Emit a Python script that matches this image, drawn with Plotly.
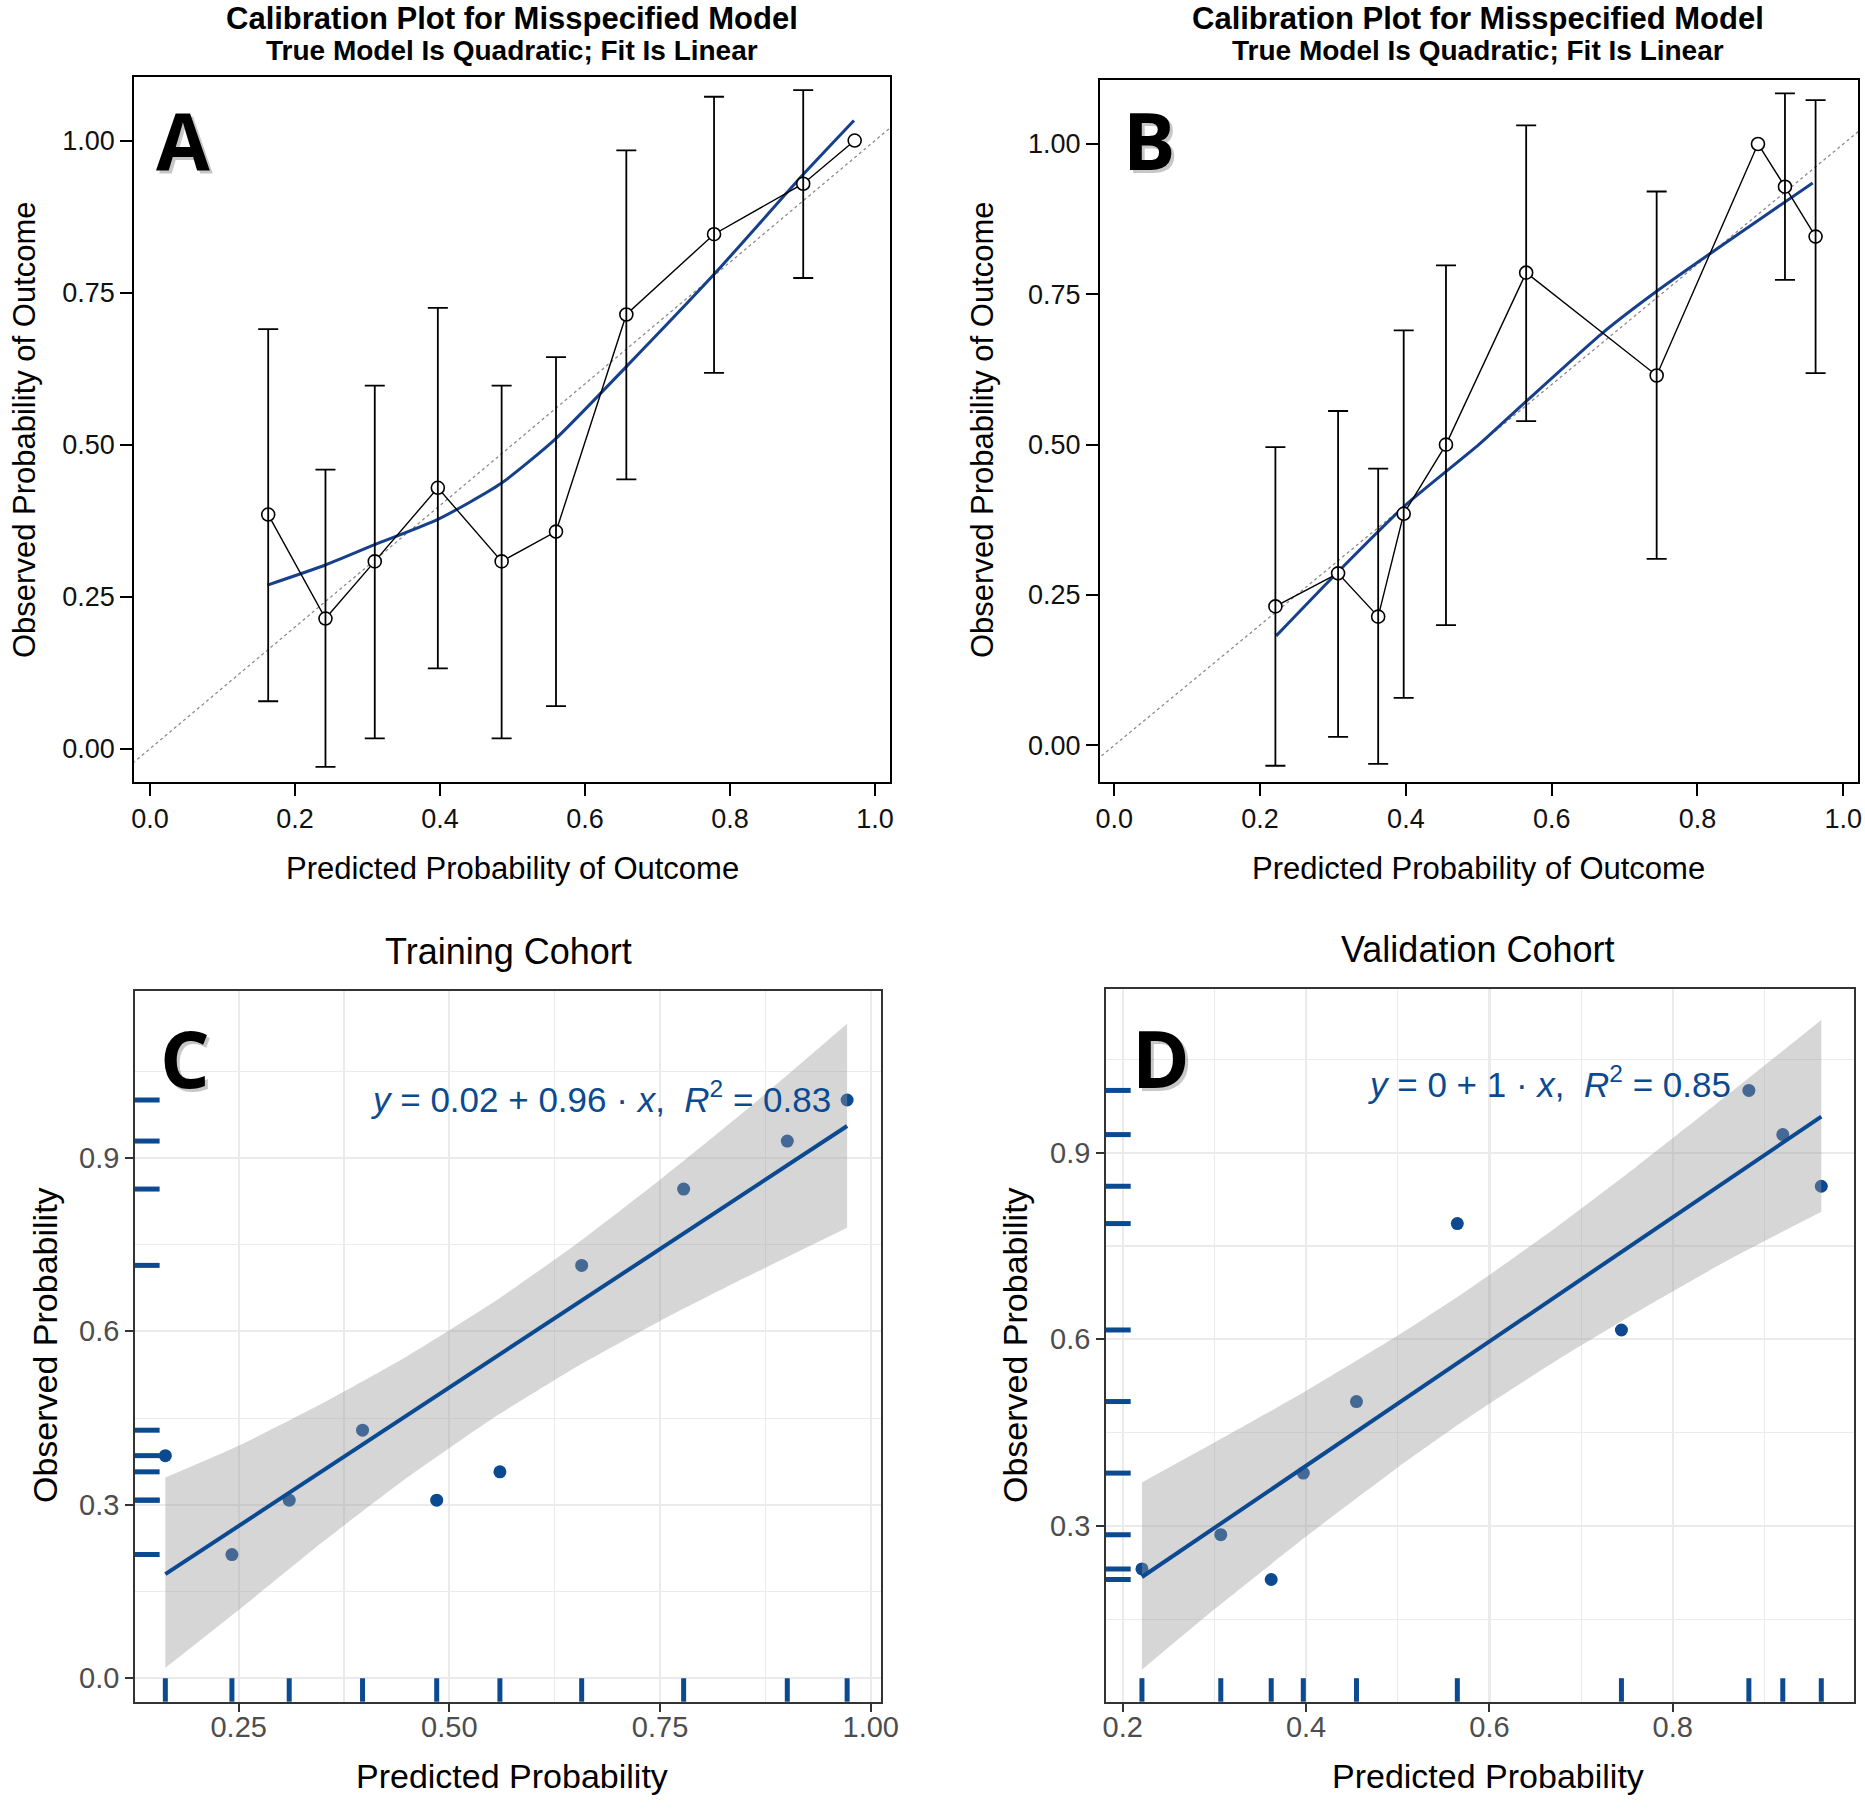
import plotly.graph_objects as go

# ---------------- data ----------------
# Training cohort (panels A and C)
train_pred = [0.163, 0.242, 0.310, 0.397, 0.485, 0.560, 0.657, 0.778, 0.901, 0.972]
train_obs = [0.385, 0.214, 0.308, 0.429, 0.308, 0.357, 0.714, 0.846, 0.929, 1.000]
train_ci_hi = [0.690, 0.459, 0.597, 0.725, 0.597, 0.644, 0.984, 1.072, 1.083, None]
train_ci_lo = [0.078, -0.030, 0.017, 0.132, 0.017, 0.070, 0.443, 0.618, 0.774, None]

# Validation cohort (panels B and D)
valid_pred = [0.221, 0.307, 0.362, 0.397, 0.455, 0.565, 0.744, 0.883, 0.920, 0.962]
valid_obs = [0.231, 0.286, 0.214, 0.385, 0.500, 0.786, 0.615, 1.000, 0.929, 0.846]
valid_ci_hi = [0.496, 0.556, 0.460, 0.690, 0.798, 1.031, 0.921, None, 1.084, 1.073]
valid_ci_lo = [-0.034, 0.014, -0.031, 0.079, 0.200, 0.539, 0.310, None, 0.774, 0.619]

# smoothed calibration curves (blue) in A and B
smoothA_x = [0.162, 0.242, 0.309, 0.397, 0.484, 0.559, 0.656, 0.778, 0.900, 0.971]
smoothA_y = [0.269, 0.302, 0.335, 0.377, 0.436, 0.509, 0.627, 0.780, 0.943, 1.033]
smoothB_x = [0.222, 0.300, 0.400, 0.500, 0.565, 0.670, 0.744, 0.813, 0.900, 0.958]
smoothB_y = [0.182, 0.280, 0.400, 0.500, 0.572, 0.686, 0.755, 0.814, 0.887, 0.935]

# ideal (diagonal) reference line
diag_ref = [-0.1, 1.2]

# linear fits and confidence bands in C and D
fitC_x = [0.163, 0.972]
fitC_y = [0.180, 0.955]
ribC_x = [0.163, 0.25, 0.35, 0.45, 0.55, 0.65, 0.75, 0.85, 0.972]
ribC_lo = [0.018, 0.118, 0.236, 0.347, 0.448, 0.538, 0.618, 0.692, 0.779]
ribC_hi = [0.347, 0.402, 0.476, 0.557, 0.648, 0.750, 0.862, 0.980, 1.132]

fitD_x = [0.221, 0.962]
fitD_y = [0.218, 0.958]
ribD_x = [0.221, 0.30, 0.40, 0.50, 0.58, 0.67, 0.76, 0.86, 0.962]
ribD_lo = [0.069, 0.166, 0.283, 0.394, 0.477, 0.563, 0.643, 0.727, 0.805]
ribD_hi = [0.370, 0.434, 0.517, 0.606, 0.683, 0.777, 0.877, 0.993, 1.113]

eqC = "<i>y</i> = 0.02 + 0.96 \u00b7 <i>x</i>,\u00a0\u00a0<i>R</i><sup>2</sup> = 0.83"
eqD = "<i>y</i> = 0 + 1 \u00b7 <i>x</i>,\u00a0\u00a0<i>R</i><sup>2</sup> = 0.85"

tickAB_x = [0.0, 0.2, 0.4, 0.6, 0.8, 1.0]
tickAB_xt = ["0.0", "0.2", "0.4", "0.6", "0.8", "1.0"]
tickAB_y = [0.0, 0.25, 0.5, 0.75, 1.0]
tickAB_yt = ["0.00", "0.25", "0.50", "0.75", "1.00"]
tickC_x = [0.25, 0.50, 0.75, 1.00]
tickC_xt = ["0.25", "0.50", "0.75", "1.00"]
minorC_x = [0.375, 0.625, 0.875]
tickCD_y = [0.0, 0.3, 0.6, 0.9]
tickCD_yt = ["0.0", "0.3", "0.6", "0.9"]
minorCD_y = [0.15, 0.45, 0.75, 1.05]
tickD_x = [0.2, 0.4, 0.6, 0.8]
tickD_xt = ["0.2", "0.4", "0.6", "0.8"]
minorD_x = [0.3, 0.5, 0.7, 0.9]

# ---------------- styling ----------------
W, H = 1865, 1809
FONT = "Liberation Sans, Arial, Helvetica, sans-serif"
NAVY = "#163f8c"
BLUE = "#0b4a91"

fig = go.Figure()


def calib_panel(xa, ya, px, py, hi, lo, sx, sy):
    fig.add_trace(go.Scatter(x=diag_ref, y=diag_ref, mode="lines", xaxis=xa, yaxis=ya,
                             line=dict(color="#8c8c8c", width=1.3, dash="dot"), showlegend=False))
    fig.add_trace(go.Scatter(x=sx, y=sy, mode="lines", xaxis=xa, yaxis=ya,
                             line=dict(color=NAVY, width=3, shape="spline", smoothing=0.6),
                             showlegend=False))
    fig.add_trace(go.Scatter(x=px, y=py, mode="lines+markers", xaxis=xa, yaxis=ya,
                             line=dict(color="black", width=1.4),
                             marker=dict(symbol="circle", size=13, color="white",
                                         line=dict(color="black", width=1.6)),
                             showlegend=False))
    ex, ey, ep, em = [], [], [], []
    for x, y, h, l in zip(px, py, hi, lo):
        if h is None:
            continue
        ex.append(x); ey.append(y); ep.append(h - y); em.append(y - l)
    fig.add_trace(go.Scatter(x=ex, y=ey, mode="markers", xaxis=xa, yaxis=ya,
                             marker=dict(size=1, opacity=0),
                             error_y=dict(type="data", symmetric=False, array=ep, arrayminus=em,
                                          color="black", thickness=1.8, width=10),
                             showlegend=False))


calib_panel("x", "y", train_pred, train_obs, train_ci_hi, train_ci_lo, smoothA_x, smoothA_y)
calib_panel("x2", "y2", valid_pred, valid_obs, valid_ci_hi, valid_ci_lo, smoothB_x, smoothB_y)


def gg_panel(xa, ya, px, py, rx, rlo, rhi, fx, fy):
    fig.add_trace(go.Scatter(x=px, y=py, mode="markers", xaxis=xa, yaxis=ya,
                             marker=dict(size=13, color=BLUE), showlegend=False))
    fig.add_trace(go.Scatter(x=rx, y=rlo, mode="lines", xaxis=xa, yaxis=ya,
                             line=dict(width=0, shape="spline", smoothing=0.5),
                             showlegend=False))
    fig.add_trace(go.Scatter(x=rx, y=rhi, mode="lines", xaxis=xa, yaxis=ya,
                             line=dict(width=0, shape="spline", smoothing=0.5),
                             fill="tonexty", fillcolor="rgba(153,153,153,0.4)",
                             showlegend=False))
    fig.add_trace(go.Scatter(x=fx, y=fy, mode="lines", xaxis=xa, yaxis=ya,
                             line=dict(color=BLUE, width=4), showlegend=False))


gg_panel("x3", "y3", train_pred, train_obs, ribC_x, ribC_lo, ribC_hi, fitC_x, fitC_y)
gg_panel("x4", "y4", valid_pred, valid_obs, ribD_x, ribD_lo, ribD_hi, fitD_x, fitD_y)

shapes = []


def rugs(xa, ya, px, py):
    for x in px:
        shapes.append(dict(type="line", xref=xa, yref=ya + " domain", x0=x, x1=x, y0=0, y1=0.033,
                           line=dict(color=BLUE, width=5)))
    for y in py:
        shapes.append(dict(type="line", xref=xa + " domain", yref=ya, x0=0, x1=0.033, y0=y, y1=y,
                           line=dict(color=BLUE, width=5)))


rugs("x3", "y3", train_pred, train_obs)
rugs("x4", "y4", valid_pred, valid_obs)


def px2x(p):
    return p / W


def px2y(p):
    return 1 - p / H


def base_axis(dom, rng, tv, tt):
    return dict(domain=dom, range=rng, tickvals=tv, ticktext=tt, showline=True, mirror=True,
                zeroline=False, fixedrange=True, automargin=False)


ab_style = dict(linecolor="black", linewidth=2, ticks="outside", ticklen=12, tickwidth=2,
                tickcolor="black", showgrid=False,
                tickfont=dict(family=FONT, size=27, color="#111111"))
cd_style = dict(linecolor="#333333", linewidth=1.8, ticks="outside", ticklen=8, tickwidth=2,
                tickcolor="#333333", showgrid=True, gridcolor="#EBEBEB", gridwidth=2.2,
                tickfont=dict(family=FONT, size=29, color="#4D4D4D"))

layout = dict(
    width=W, height=H, margin=dict(l=0, r=0, t=0, b=0, pad=0, autoexpand=False),
    paper_bgcolor="white", plot_bgcolor="white", showlegend=False,
    xaxis=dict(**base_axis([px2x(134.3), px2x(890)], [-0.0217, 1.0207], tickAB_x, tickAB_xt),
               anchor="y", **ab_style),
    yaxis=dict(**base_axis([px2y(781.7), px2y(76.7)], [-0.0543, 1.105], tickAB_y, tickAB_yt),
               anchor="x", **ab_style),
    xaxis2=dict(**base_axis([px2x(1100), px2x(1858.3)], [-0.0196, 1.0206], tickAB_x, tickAB_xt),
                anchor="y2", **ab_style),
    yaxis2=dict(**base_axis([px2y(781.7), px2y(80)], [-0.0605, 1.1064], tickAB_y, tickAB_yt),
                anchor="x2", **ab_style),
    xaxis3=dict(**base_axis([px2x(135), px2x(881)], [0.127, 1.0122], tickC_x, tickC_xt),
                anchor="y3", ticklabelstandoff=-9,
                minor=dict(tickvals=minorC_x, showgrid=True, gridcolor="#EBEBEB",
                           gridwidth=1.1, ticks=""), **cd_style),
    yaxis3=dict(**base_axis([px2y(1701.7), px2y(990.7)], [-0.0405, 1.189], tickCD_y, tickCD_yt),
                anchor="x3", minor=dict(tickvals=minorCD_y, showgrid=True, gridcolor="#EBEBEB",
                                        gridwidth=1.1, ticks=""), **cd_style),
    xaxis4=dict(**base_axis([px2x(1106), px2x(1854.3)], [0.1818, 0.998], tickD_x, tickD_xt),
                anchor="y4", ticklabelstandoff=-9,
                minor=dict(tickvals=minorD_x, showgrid=True, gridcolor="#EBEBEB",
                           gridwidth=1.1, ticks=""), **cd_style),
    yaxis4=dict(**base_axis([px2y(1701.7), px2y(989)], [0.0176, 1.163], tickCD_y, tickCD_yt),
                anchor="x4", minor=dict(tickvals=minorCD_y, showgrid=True, gridcolor="#EBEBEB",
                                        gridwidth=1.1, ticks=""), **cd_style),
    shapes=shapes,
)
fig.update_layout(**layout)

ann = []


def text(x, y, s, size, color="black", bold=False, angle=0, family=FONT, xanchor="center"):
    ann.append(dict(x=px2x(x), y=px2y(y), xref="paper", yref="paper", text=s, showarrow=False,
                    xanchor=xanchor, yanchor="middle", textangle=angle,
                    font=dict(family=family, size=size, color=color,
                              weight="bold" if bold else "normal")))


# titles A, B
for cx in (512, 1478):
    text(cx, 19, "Calibration Plot for Misspecified Model", 31, bold=True)
    text(cx, 51, "True Model Is Quadratic; Fit Is Linear", 28, bold=True)
    text(cx, 868, "Predicted Probability of Outcome", 31)
text(24, 430, "Observed Probability of Outcome", 31, angle=-90)
text(982, 430, "Observed Probability of Outcome", 31, angle=-90)

# titles C, D
text(508, 951, "Training Cohort", 36)
text(1478, 949, "Validation Cohort", 36)
text(512, 1776, "Predicted Probability", 34)
text(1488, 1776, "Predicted Probability", 34)
text(45, 1345, "Observed Probability", 34, angle=-90)
text(1015, 1345, "Observed Probability", 34, angle=-90)

# regression equations
ann.append(dict(x=0.955, y=1.006, xref="x3", yref="y3", text=eqC, showarrow=False,
                xanchor="right", yanchor="middle", font=dict(family=FONT, size=35, color=BLUE)))
ann.append(dict(x=0.866, y=1.0136, xref="x4", yref="y4", text=eqD, showarrow=False,
                xanchor="right", yanchor="middle", font=dict(family=FONT, size=35, color=BLUE)))

# panel letters with soft shadow
LFONT = "Open Sans, Lato, Liberation Sans, sans-serif"
for letter, cx, cy in (("A", 183, 140), ("B", 1149, 140), ("C", 185, 1058), ("D", 1161, 1058)):
    text(cx + 3, cy + 3, letter, 78, color="rgba(0,0,0,0.22)", bold=True, family=LFONT)
    text(cx, cy, letter, 78, color="black", bold=True, family=LFONT)

fig.update_layout(annotations=ann)
# remove the default page margin so the 1865x1809 figure fills the window exactly
fig.write_html("out.html",
               config={"displayModeBar": False, "staticPlot": True},
               post_script="document.body.style.margin='0';"
                           "document.body.style.overflow='hidden';")
